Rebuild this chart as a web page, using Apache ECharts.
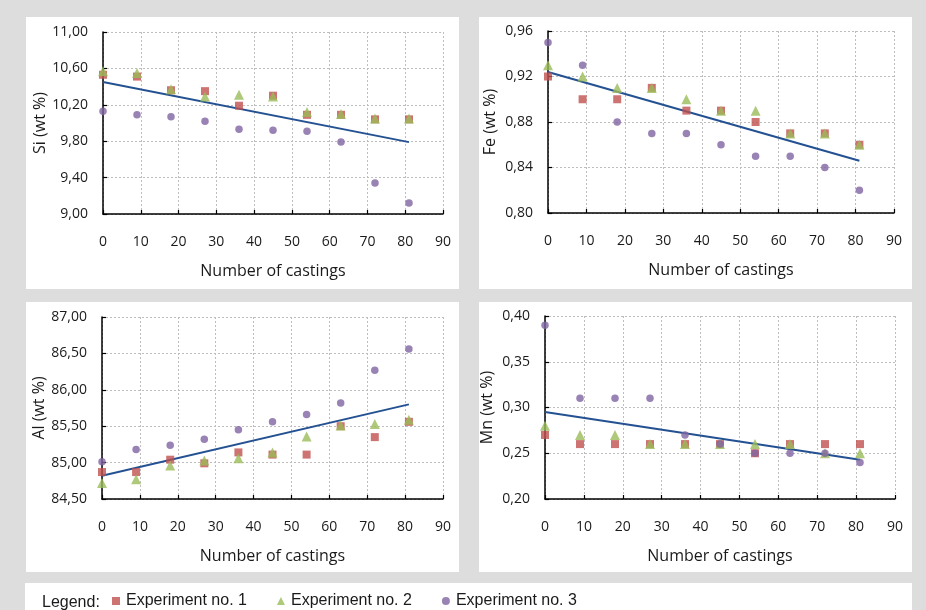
<!DOCTYPE html>
<html><head><meta charset="utf-8">
<script src="https://cdn.jsdelivr.net/npm/echarts@6/dist/echarts.min.js"></script>
<style>html,body{margin:0;padding:0;background:#dddddd;} #c{width:926px;height:610px;}</style>
</head><body><div id="c"></div>
<script>
// ---------- data ----------
const castings = [0, 9, 18, 27, 36, 45, 54, 63, 72, 81];
const xTicks = [0, 10, 20, 30, 40, 50, 60, 70, 80, 90];
const seriesNames = ['Experiment no. 1', 'Experiment no. 2', 'Experiment no. 3'];

const siExp1 = [10.53, 10.51, 10.36, 10.35, 10.19, 10.30, 10.09, 10.09, 10.04, 10.04];
const siExp2 = [10.57, 10.55, 10.37, 10.29, 10.31, 10.29, 10.12, 10.10, 10.05, 10.05];
const siExp3 = [10.13, 10.09, 10.07, 10.02, 9.93, 9.92, 9.91, 9.79, 9.34, 9.12];
const siTrend = [10.45, 9.79];
const siTicks = [9.00, 9.40, 9.80, 10.20, 10.60, 11.00];

const feExp1 = [0.92, 0.90, 0.90, 0.91, 0.89, 0.89, 0.88, 0.87, 0.87, 0.86];
const feExp2 = [0.93, 0.92, 0.91, 0.91, 0.90, 0.89, 0.89, 0.87, 0.87, 0.86];
const feExp3 = [0.95, 0.93, 0.88, 0.87, 0.87, 0.86, 0.85, 0.85, 0.84, 0.82];
const feTrend = [0.924, 0.846];
const feTicks = [0.80, 0.84, 0.88, 0.92, 0.96];

const alExp1 = [84.87, 84.87, 85.04, 84.99, 85.14, 85.11, 85.11, 85.50, 85.35, 85.56];
const alExp2 = [84.72, 84.77, 84.96, 85.03, 85.06, 85.14, 85.36, 85.51, 85.53, 85.59];
const alExp3 = [85.01, 85.18, 85.24, 85.32, 85.45, 85.56, 85.66, 85.82, 86.27, 86.56];
const alTrend = [84.82, 85.80];
const alTicks = [84.50, 85.00, 85.50, 86.00, 86.50, 87.00];

const mnExp1 = [0.27, 0.26, 0.26, 0.26, 0.26, 0.26, 0.25, 0.26, 0.26, 0.26];
const mnExp2 = [0.28, 0.27, 0.27, 0.26, 0.26, 0.26, 0.26, 0.26, 0.25, 0.25];
const mnExp3 = [0.39, 0.31, 0.31, 0.31, 0.27, 0.26, 0.25, 0.25, 0.25, 0.24];
const mnTrend = [0.295, 0.243];
const mnTicks = [0.20, 0.25, 0.30, 0.35, 0.40];

// ---------- layout / style ----------
const panels = [
  { grid: { left: 103, top: 32, width: 340, height: 182 }, yName: 'Si (wt %)', ticks: siTicks, sets: [siExp1, siExp2, siExp3], trend: siTrend },
  { grid: { left: 548, top: 31, width: 346, height: 182 }, yName: 'Fe (wt %)', ticks: feTicks, sets: [feExp1, feExp2, feExp3], trend: feTrend },
  { grid: { left: 102, top: 317, width: 341, height: 182 }, yName: 'Al (wt %)', ticks: alTicks, sets: [alExp1, alExp2, alExp3], trend: alTrend },
  { grid: { left: 545, top: 316, width: 350, height: 183 }, yName: 'Mn (wt %)', ticks: mnTicks, sets: [mnExp1, mnExp2, mnExp3], trend: mnTrend }
];
const colors = ['#c0504d', '#9bbb59', '#8064a2'];
const symbols = ['rect', 'triangle', 'circle'];
const sizes = [8, 10, 7.5];
const trendColor = '#245191';
const tickFont = 'Open Sans';

const grids = [], xAxes = [], yAxes = [], series = [];
panels.forEach((p, i) => {
  grids.push(Object.assign({ containLabel: false }, p.grid));
  const step = Math.round((xTicks[1] - xTicks[0]) * 1000) / 1000;
  xAxes.push({
    type: 'value', gridIndex: i, min: xTicks[0], max: xTicks[xTicks.length - 1], interval: step,
    name: 'Number of castings', nameLocation: 'middle', nameGap: 49,
    nameTextStyle: { fontFamily: tickFont, fontSize: 16, color: '#1a1a1a' },
    axisLine: { lineStyle: { color: '#000', width: 1.5 } },
    axisTick: { inside: true, length: 4, lineStyle: { color: '#000', width: 1.2 } },
    axisLabel: { margin: 21, fontFamily: tickFont, fontSize: 14, color: '#1a1a1a' },
    splitLine: { show: true, lineStyle: { color: '#bdbdbd', type: [2, 2], width: 1 } }
  });
  const yStep = Math.round((p.ticks[1] - p.ticks[0]) * 1000) / 1000;
  yAxes.push({
    type: 'value', gridIndex: i, min: p.ticks[0], max: p.ticks[p.ticks.length - 1], interval: yStep,
    name: p.yName, nameLocation: 'middle', nameGap: 50,
    nameTextStyle: { fontFamily: tickFont, fontSize: 16, color: '#1a1a1a' },
    axisLine: { show: true, lineStyle: { color: '#000', width: 1.5 } },
    axisTick: { show: true, inside: true, length: 4, lineStyle: { color: '#000', width: 1.2 } },
    axisLabel: { margin: 15, fontFamily: tickFont, fontSize: 14, color: '#1a1a1a',
      formatter: v => v.toFixed(2).replace('.', ',') },
    splitLine: { show: true, lineStyle: { color: '#bdbdbd', type: [2, 2], width: 1 } }
  });
  p.sets.forEach((arr, k) => {
    series.push({
      name: seriesNames[k], type: 'scatter', xAxisIndex: i, yAxisIndex: i,
      symbol: symbols[k], symbolSize: sizes[k],
      itemStyle: { color: colors[k] },
      data: castings.map((x, j) => [x, arr[j]]), z: 3 + k
    });
  });
  series.push({
    name: 'trend', type: 'line', xAxisIndex: i, yAxisIndex: i, showSymbol: false, symbol: 'none',
    lineStyle: { color: trendColor, width: 2 }, z: 2,
    data: [[castings[0], p.trend[0]], [castings[castings.length - 1], p.trend[1]]]
  });
});

const chart = echarts.init(document.getElementById('c'), null, { renderer: 'canvas' });
chart.setOption({
  backgroundColor: '#dddddd',
  animation: false,
  graphic: [
    { type: 'rect', z: -10, shape: { x: 26, y: 17, width: 433, height: 272 }, style: { fill: '#fff' } },
    { type: 'rect', z: -10, shape: { x: 479, y: 17, width: 433, height: 272 }, style: { fill: '#fff' } },
    { type: 'rect', z: -10, shape: { x: 26, y: 302, width: 433, height: 270 }, style: { fill: '#fff' } },
    { type: 'rect', z: -10, shape: { x: 479, y: 302, width: 433, height: 270 }, style: { fill: '#fff' } },
    { type: 'rect', z: -10, shape: { x: 25, y: 583, width: 887, height: 30 }, style: { fill: '#fff' } },
    { type: 'text', z: 5, left: 42, top: 595, style: { text: 'Legend:', font: '16px "Liberation Sans", Arial, sans-serif', fill: '#1a1a1a' } }
  ],
  legend: {
    data: seriesNames, left: 107, top: 588, itemWidth: 8, itemHeight: 8, itemGap: 30,
    selectedMode: false,
    textStyle: { fontFamily: 'Liberation Sans', fontSize: 16, color: '#1a1a1a', padding: [0, 0, 0, 1] }
  },
  grid: grids, xAxis: xAxes, yAxis: yAxes, series: series
});
</script></body></html>
